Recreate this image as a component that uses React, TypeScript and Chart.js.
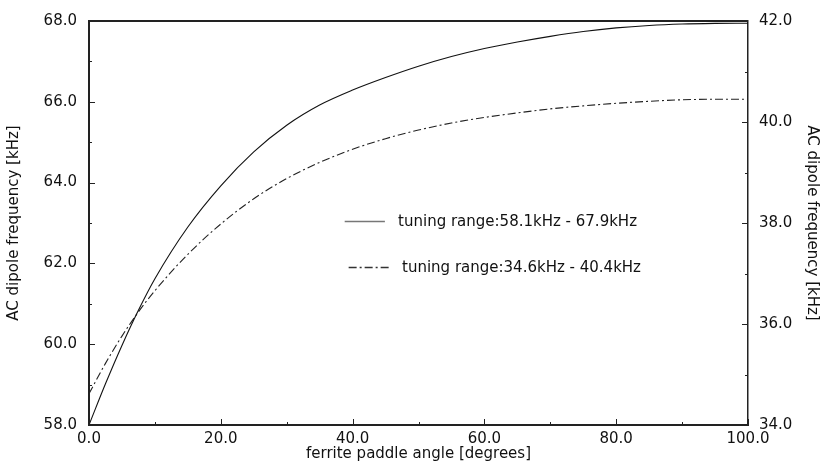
import React, { useEffect, useRef } from "react";
import { Chart, registerables } from "chart.js";

Chart.register(...registerables);

// ---- data ----
const angles = [0, 2.5, 5, 7.5, 10, 15, 20, 25, 30, 35, 40, 45, 50, 55, 60, 65, 70, 75, 80, 85, 90, 95, 100];
const freqHigh = [58.0, 59.02, 59.97, 60.84, 61.62, 62.9, 63.92, 64.76, 65.42, 65.92, 66.29, 66.6, 66.88, 67.12, 67.32, 67.48, 67.62, 67.74, 67.83, 67.89, 67.925, 67.94, 67.945];
const freqLow = [34.62, 35.22, 35.76, 36.24, 36.66, 37.38, 37.98, 38.48, 38.88, 39.2, 39.46, 39.67, 39.84, 39.98, 40.09, 40.18, 40.26, 40.32, 40.37, 40.41, 40.44, 40.45, 40.45];

const labelHigh = "tuning range:58.1kHz - 67.9kHz";
const labelLow = "tuning range:34.6kHz - 40.4kHz";

const xMajorTicks = [0, 20, 40, 60, 80, 100];
const xMinorTicks = [10, 30, 50, 70, 90];
const yLeftMajorTicks = [58, 60, 62, 64, 66, 68];
const yLeftMinorTicks = [59, 61, 63, 65, 67];
const yRightMajorTicks = [34, 36, 38, 40, 42];
const yRightMinorTicks = [35, 37, 39, 41];

const xTitle = "ferrite paddle angle [degrees]";
const yTitle = "AC dipole frequency [kHz]";

const FONT = "'DejaVu Sans', 'Liberation Sans', sans-serif";

const framePlugin = {
  id: "frameTicksLegend",
  afterDatasetsDraw(chart: any) {
    const { ctx, chartArea: a, scales } = chart;
    ctx.save();
    ctx.strokeStyle = "#222";
    // top frame line
    ctx.lineWidth = 2;
    ctx.beginPath();
    ctx.moveTo(a.left, a.top);
    ctx.lineTo(a.right, a.top);
    ctx.stroke();

    ctx.lineWidth = 1;
    const seg = (x1: number, y1: number, x2: number, y2: number) => {
      ctx.beginPath();
      ctx.moveTo(x1, y1);
      ctx.lineTo(x2, y2);
      ctx.stroke();
    };
    xMajorTicks.forEach((v) => {
      const p = Math.round(scales.x.getPixelForValue(v)) + 0.5;
      seg(p, a.bottom, p, a.bottom - 6);
    });
    xMinorTicks.forEach((v) => {
      const p = Math.round(scales.x.getPixelForValue(v)) + 0.5;
      seg(p, a.bottom, p, a.bottom - 3);
    });
    yLeftMajorTicks.forEach((v) => {
      const p = Math.round(scales.y.getPixelForValue(v)) + 0.5;
      seg(a.left, p, a.left + 6, p);
    });
    yLeftMinorTicks.forEach((v) => {
      const p = Math.round(scales.y.getPixelForValue(v)) + 0.5;
      seg(a.left, p, a.left + 3, p);
    });
    yRightMajorTicks.forEach((v) => {
      const p = Math.round(scales.y1.getPixelForValue(v)) + 0.5;
      seg(a.right, p, a.right - 6, p);
    });
    yRightMinorTicks.forEach((v) => {
      const p = Math.round(scales.y1.getPixelForValue(v)) + 0.5;
      seg(a.right, p, a.right - 3, p);
    });

    // legend inside the plot
    const w = a.right - a.left;
    const h = a.bottom - a.top;
    ctx.font = `15px ${FONT}`;
    ctx.fillStyle = "#111";
    ctx.textBaseline = "middle";
    ctx.textAlign = "left";
    const y1 = a.top + h * 0.496;
    ctx.strokeStyle = "#777";
    ctx.lineWidth = 1.5;
    seg(a.left + w * 0.388, y1, a.left + w * 0.449, y1);
    ctx.fillText(chart.data.datasets[0].label, a.left + w * 0.469, y1 + 1);

    const y2 = a.top + h * 0.61;
    ctx.strokeStyle = "#333";
    ctx.setLineDash([8, 3, 2, 3]);
    seg(a.left + w * 0.394, y2, a.left + w * 0.457, y2);
    ctx.setLineDash([]);
    ctx.fillText(chart.data.datasets[1].label, a.left + w * 0.475, y2 + 1);
    ctx.restore();
  },
};

export default function App() {
  const ref = useRef<HTMLCanvasElement | null>(null);

  useEffect(() => {
    if (!ref.current) return;
    Chart.defaults.font.family = FONT;
    Chart.defaults.font.size = 15;
    Chart.defaults.color = "#111";

    const chart = new Chart(ref.current, {
      type: "line",
      data: {
        datasets: [
          {
            label: labelHigh,
            data: angles.map((x, i) => ({ x, y: freqHigh[i] })),
            yAxisID: "y",
            borderColor: "#111",
            borderWidth: 1.1,
            pointRadius: 0,
            cubicInterpolationMode: "monotone",
            fill: false,
          },
          {
            label: labelLow,
            data: angles.map((x, i) => ({ x, y: freqLow[i] })),
            yAxisID: "y1",
            borderColor: "#222",
            borderWidth: 1.1,
            borderDash: [8, 3, 2, 3],
            pointRadius: 0,
            cubicInterpolationMode: "monotone",
            fill: false,
          },
        ],
      },
      options: {
        animation: false,
        responsive: false,
        maintainAspectRatio: false,
        layout: { padding: { top: 12, left: 0, right: 0, bottom: 0 } },
        plugins: {
          legend: { display: false },
          tooltip: { enabled: false },
        },
        scales: {
          x: {
            type: "linear",
            min: 0,
            max: 100,
            afterBuildTicks: (s: any) => {
              s.ticks = xMajorTicks.map((v) => ({ value: v }));
            },
            ticks: {
              padding: 5,
              maxRotation: 0,
              autoSkip: false,
              callback: (v: any) => Number(v).toFixed(1),
            },
            grid: { display: false, drawTicks: false },
            border: { display: true, color: "#222", width: 2 },
            title: {
              display: true,
              text: xTitle,
              padding: { top: 0, bottom: 5 },
            },
            afterFit: (s: any) => {
              s.height = 43;
            },
          },
          y: {
            type: "linear",
            position: "left",
            min: 58,
            max: 68,
            afterBuildTicks: (s: any) => {
              s.ticks = yLeftMajorTicks.map((v) => ({ value: v }));
            },
            ticks: {
              padding: 12,
              autoSkip: false,
              callback: (v: any) => Number(v).toFixed(1),
            },
            grid: { display: false, drawTicks: false },
            border: { display: true, color: "#222", width: 2 },
            title: {
              display: true,
              text: yTitle,
              padding: { top: 5, bottom: 0 },
            },
            afterFit: (s: any) => {
              s.width = 89;
            },
          },
          y1: {
            type: "linear",
            position: "right",
            min: 34,
            max: 42,
            afterBuildTicks: (s: any) => {
              s.ticks = yRightMajorTicks.map((v) => ({ value: v }));
            },
            ticks: {
              padding: 11,
              autoSkip: false,
              callback: (v: any) => Number(v).toFixed(1),
            },
            grid: { display: false, drawTicks: false },
            border: { display: true, color: "#222", width: 1.5 },
            title: {
              display: true,
              text: yTitle,
              padding: { top: 5, bottom: 0 },
            },
            afterFit: (s: any) => {
              s.width = 78;
            },
          },
        },
      },
      plugins: [framePlugin],
    } as any);

    return () => chart.destroy();
  }, []);

  return (
    <div style={{ position: "fixed", left: 0, top: 0, width: 826, height: 468, background: "#fff" }}>
      <canvas ref={ref} width={826} height={468} style={{ display: "block", width: 826, height: 468 }} />
    </div>
  );
}
